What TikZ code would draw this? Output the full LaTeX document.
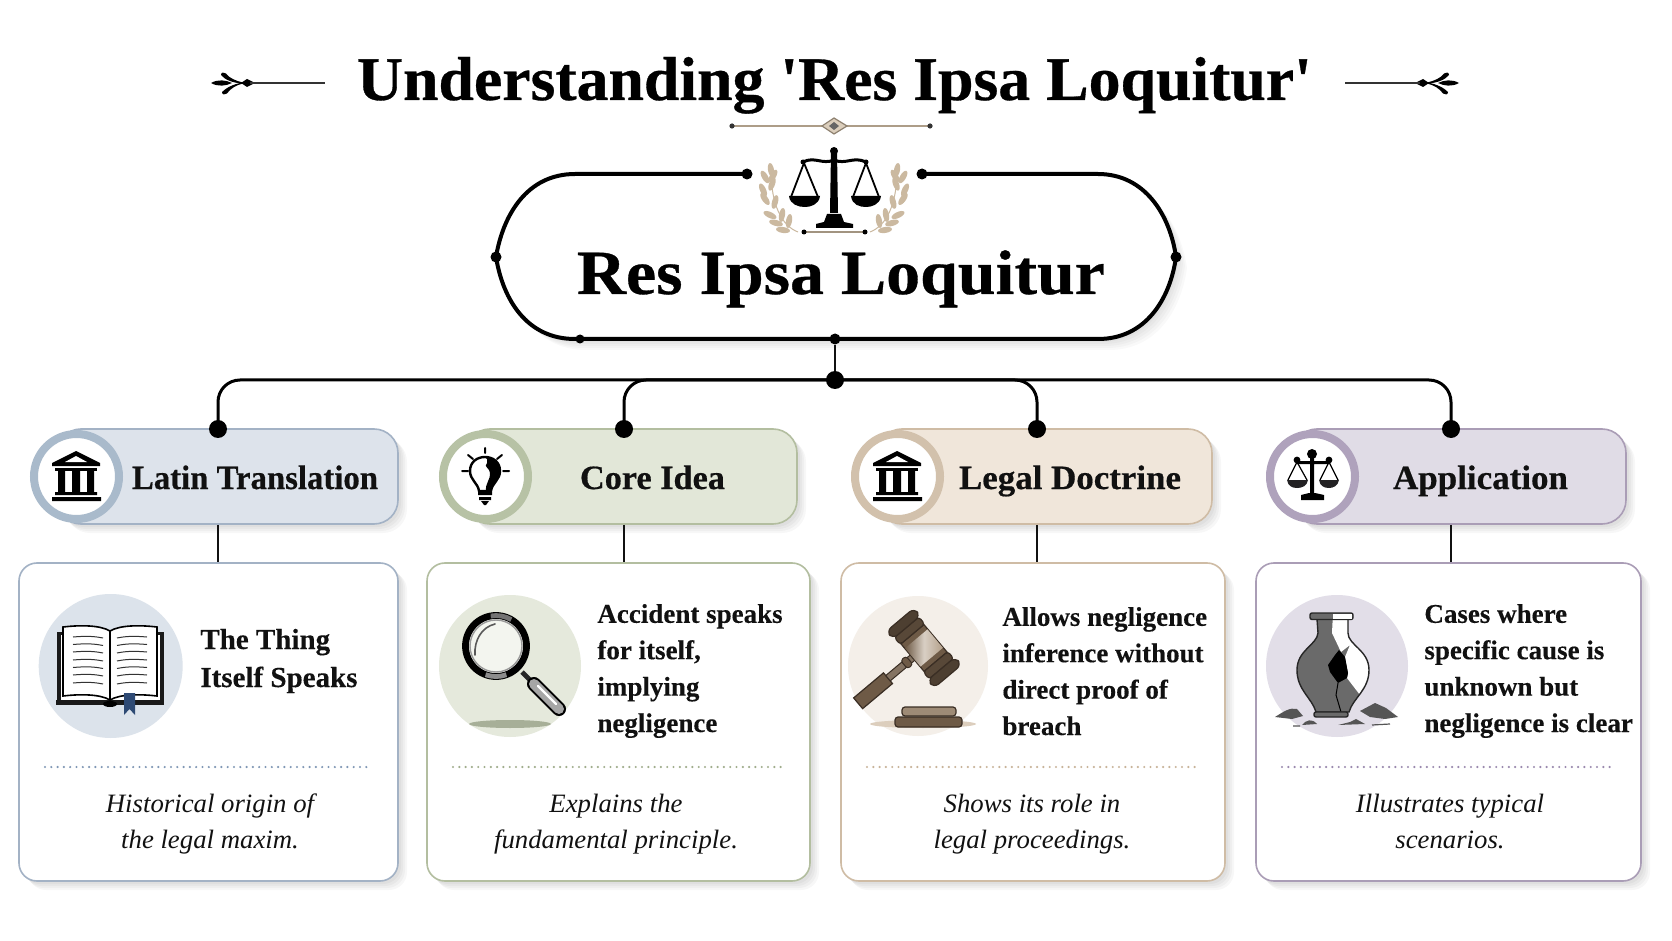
\documentclass[tikz,border=0pt]{standalone}
\usepackage{fontspec}
\usepackage{graphicx}
\setmainfont[BoldFeatures={FakeBold=0.5}]{Liberation Serif}
\newfontfamily\bodyfont[BoldFeatures={FakeBold=0.25}]{Liberation Serif}
\newfontfamily\notefont[FakeStretch=1.01]{Liberation Serif}
\usetikzlibrary{calc}
\definecolor{acol}{HTML}{DDE3EB}\definecolor{abor}{HTML}{A3B2C5}\definecolor{aring}{HTML}{A9BACB}\definecolor{aic}{HTML}{DCE3EB}\definecolor{adot}{HTML}{7F97B5}
\definecolor{bcol}{HTML}{E2E7D8}\definecolor{bbor}{HTML}{B3BEA0}\definecolor{bring}{HTML}{B7C2A5}\definecolor{bic}{HTML}{E5E9DC}\definecolor{bdot}{HTML}{A0AD8C}
\definecolor{ccol}{HTML}{F0E6DA}\definecolor{cbor}{HTML}{CFBCA5}\definecolor{cring}{HTML}{D2C1AC}\definecolor{cic}{HTML}{F4EFE9}\definecolor{cdot}{HTML}{C8B399}
\definecolor{dcol}{HTML}{E0DCE6}\definecolor{dbor}{HTML}{AA9DB6}\definecolor{dring}{HTML}{AFA2BC}\definecolor{dic}{HTML}{E2DEE8}\definecolor{ddot}{HTML}{9A89AE}
\definecolor{inkc}{HTML}{111111}\definecolor{leafc}{HTML}{CBB9A0}\definecolor{gavm}{HTML}{6E5A46}\definecolor{gavd}{HTML}{3A2E24}\definecolor{gavl}{HTML}{B3A08A}\definecolor{bmk}{HTML}{2E4A74}
\definecolor{vaseg}{HTML}{6A6A6A}\definecolor{shardc}{HTML}{555555}
\tikzset{
 x=0.5pt,y=-0.5pt,
 dotn/.style={circle,fill=black,inner sep=0pt,minimum size=#1},
 busline/.style={line width=1.5pt,black,rounded corners=11pt},
 stem/.style={line width=1pt,inkc},
 hdrbox/.style={draw=#1,line width=0.8pt,rounded corners=12pt,minimum height=47.5pt,inner sep=0pt},
 ringc/.style={circle,draw=#1,fill=white,line width=4pt,minimum size=42.5pt,inner sep=0pt},
 cardbox/.style={draw=#1,fill=white,line width=0.8pt,rounded corners=9pt,minimum height=159pt,inner sep=0pt},
 dotrule/.style={draw=#1,line width=1.2pt,line cap=round,dash pattern=on 0pt off 3.15pt},
 htext/.style={anchor=base,inner sep=0pt,font=\fontsize{17}{20}\selectfont\bfseries,text=inkc},
 btext/.style={anchor=base west,align=left,inner sep=0pt,font=\bodyfont\fontsize{13.5}{18.2}\selectfont\bfseries,text=inkc},
 itext/.style={anchor=base,align=center,inner sep=0pt,font=\notefont\fontsize{13.25}{18}\selectfont\itshape,text=inkc},
 ttext/.style={anchor=base,inner sep=0pt,font=\fontsize{31}{36}\selectfont\bfseries,text=black},
}
\newcommand{\softshadow}[5]{\foreach \s in {3,5,7,9}{\fill[black,opacity=.03,rounded corners=#5] ({#1+\s},{#2+\s}) rectangle ({#3+\s},{#4+\s});}}
\newcommand{\fitw}[2]{\resizebox{#1}{\height}{#2}}
\newcommand{\templeicon}[2]{\begin{scope}[shift={(#1,#2)}]
 \fill[black] (0,-26) -- (24,-14) -- (24,-11) -- (-24,-11) -- (-24,-14) -- cycle;
 \fill[white] (0,-21) -- (11,-15) -- (-11,-15) -- cycle;
 \fill[black] (-21,-9) rectangle (21,-6);
 \fill[black] (-18,-6) rectangle (-11,15) (-4,-6) rectangle (4,15) (11,-6) rectangle (18,15);
 \fill[black] (-21,15) rectangle (21,18) (-24,20) rectangle (25,24);
\end{scope}}
\newcommand{\leaf}[4]{\fill[leafc,shift={(#1,#2)},rotate=#3] (0,0) ellipse [x radius=#4,y radius=3];}
\newcommand{\flourish}{
 \fill[black] (211,83) .. controls (218,79) and (226,80) .. (232,83) .. controls (226,86) and (218,87) .. (211,83) -- cycle;
 \fill[black] (241,83) -- (247,79) -- (255,83) -- (247,87) -- cycle;
 \fill[black] (243,83.5) .. controls (233,83) and (225,80) .. (221,75) .. controls (221,72) and (224,72) .. (226,73.5) .. controls (229,78) and (236,81) .. (243,82.5) -- cycle;
 \fill[black] (243,82.5) .. controls (233,84) and (226,88) .. (222,92) .. controls (222,95) and (225,95) .. (227,93.5) .. controls (230,89) and (236,85) .. (243,83.5) -- cycle;
 \draw[black!80,line width=.7pt] (250,83) -- (325,83);
}
\newcommand{\pillshape}{(575,174) -- (1098,174) .. controls (1145,174) and (1170,215) .. (1176,257) .. controls (1170,300) and (1145,339) .. (1098,339) -- (575,339) .. controls (527,339) and (503,300) .. (496,257) .. controls (503,215) and (527,174) .. (575,174) -- cycle}
\begin{document}
\begin{tikzpicture}
\useasboundingbox (0,0) rectangle (1672,941);
\fill[white] (0,0) rectangle (1672,941);
% title
\node[ttext] (title) at (834.5,100) {\fitw{477.5pt}{Understanding \textquotesingle Res Ipsa Loquitur\textquotesingle}};
\flourish
\begin{scope}[shift={(1670,0)},xscale=-1]\flourish\end{scope}
\draw[line width=.7pt,color=leafc!85!black] (732,126) -- (930,126);
\fill[black!80] (732,126) circle (2.6) (930,126) circle (2.6);
\fill[leafc!70!white,draw=leafc!70!black,line width=.6pt] (822,126) -- (834,118) -- (847,126) -- (834,134) -- cycle;
\fill[black!60] (829,126) -- (834,122) -- (839,126) -- (834,130) -- cycle;
% pill
\foreach \s in {3,5,7,9,11}{\fill[black,opacity=.025,shift={(\s,\s)}] \pillshape;}
\fill[white] \pillshape;
\draw[line width=2pt,black] (747,174) -- (575,174) .. controls (527,174) and (503,215) .. (496,257) .. controls (503,300) and (527,339) .. (575,339) -- (1098,339) .. controls (1145,339) and (1170,300) .. (1176,257) .. controls (1170,215) and (1145,174) .. (1098,174) -- (922,174);
\node[dotn=5.5pt] (pt1) at (747,174) {};
\node[dotn=5.5pt] (pt2) at (922,174) {};
\node[dotn=5.5pt] (pl) at (496,257) {};
\node[dotn=5.5pt] (pr) at (1176,257) {};
\node[dotn=4.5pt] (pb1) at (580,339) {};
\node[dotn=5.5pt] (pb) at (835,339) {};
% laurels
\draw[leafc,line width=.5pt] (798,232) .. controls (782,226) and (771,205) .. (771,170);
\draw[leafc,line width=.5pt] (870,232) .. controls (886,226) and (897,205) .. (897,170);
\foreach \a/\b/\r in {771/170/100,765/177/120,773/176/60,763/190/115,772/184/70,765/199/125,775/202/75,770/215/155,782/215/80,776/223/165,789/221/80,783/230/172}{
 \leaf{\a}{\b}{\r}{7}
 \leaf{\the\numexpr1668-\a\relax}{\b}{-\r}{7}
}
% big scales
\fill[black] (834,151) circle (4);
\fill[black] (831,152) -- (837,152) -- (838,213) -- (830,213) -- cycle;
\fill[black] (827,214) -- (841,214) -- (844,222) -- (853,224) -- (853,228) -- (816,228) -- (816,224) -- (824,222) -- cycle;
\draw[black,line width=1.5pt,line cap=round] (803,162) .. controls (815,156) and (822,165) .. (834,160) .. controls (846,165) and (853,156) .. (866,162);
\fill[black] (803,162) circle (2.5) (866,162) circle (2.5);
\draw[black,line width=.9pt] (791,197) -- (804,163) -- (818,197) (853,197) -- (866,163) -- (879,197);
\fill[black] (789,196) -- (820,196) .. controls (819,205) and (810,207) .. (805,207) .. controls (799,207) and (790,205) .. (789,196) -- cycle;
\fill[black] (851,196) -- (881,196) .. controls (880,205) and (871,207) .. (866,207) .. controls (860,207) and (852,205) .. (851,196) -- cycle;
\draw[line width=.8pt,color=leafc!80!black] (804,232) -- (865,232);
\fill[black] (804,232) circle (2.5) (865,232) circle (2.5);
\node[ttext,font=\fontsize{31.5}{36}\selectfont\bfseries] (root) at (841,294) {\fitw{264pt}{Res Ipsa Loquitur}};
% shadows
\softshadow{57}{429}{398}{524}{12pt}
\softshadow{466}{429}{797}{524}{12pt}
\softshadow{878}{429}{1212}{524}{12pt}
\softshadow{1293}{429}{1626}{524}{12pt}
\softshadow{19}{563}{398}{881}{9pt}
\softshadow{427}{563}{810}{881}{9pt}
\softshadow{841}{563}{1225}{881}{9pt}
\softshadow{1256}{563}{1641}{881}{9pt}
% header boxes
\node[hdrbox=abor,fill=acol,minimum width=170.5pt] (h1) at (227.5,476.5) {};
\node[hdrbox=bbor,fill=bcol,minimum width=165.5pt] (h2) at (631.5,476.5) {};
\node[hdrbox=cbor,fill=ccol,minimum width=167pt] (h3) at (1045,476.5) {};
\node[hdrbox=dbor,fill=dcol,minimum width=166.5pt] (h4) at (1459.5,476.5) {};
\node[ringc=aring] (r1) at (76.5,476.5) {};
\node[ringc=bring] (r2) at (485.5,476.5) {};
\node[ringc=cring] (r3) at (897.5,476.5) {};
\node[ringc=dring] (r4) at (1312.5,476.5) {};
\node[htext] (t1) at (255,489) {\fitw{123pt}{Latin Translation}};
\node[htext] (t2) at (652.5,489) {\fitw{72.5pt}{Core Idea}};
\node[htext] (t3) at (1070,489) {\fitw{111pt}{Legal Doctrine}};
\node[htext] (t4) at (1480.5,489) {\fitw{87.5pt}{Application}};
% cards
\node[cardbox=abor,minimum width=189.5pt] (c1) at (208.5,722) {};
\node[cardbox=bbor,minimum width=191.5pt] (c2) at (618.5,722) {};
\node[cardbox=cbor,minimum width=192pt] (c3) at (1033,722) {};
\node[cardbox=dbor,minimum width=192.5pt] (c4) at (1448.5,722) {};
% connectors
\node[dotn=9pt] (hub) at (835,380) {};
\node[dotn=9pt] (d1) at (218,429) {};
\node[dotn=9pt] (d2) at (624,429) {};
\node[dotn=9pt] (d3) at (1037,429) {};
\node[dotn=9pt] (d4) at (1451,429) {};
\draw[stem] (pb) -- (hub);
\draw[busline] (d1.center) |- (hub.center);
\draw[busline] (d2.center) |- (hub.center);
\draw[busline] (d3.center) |- (hub.center);
\draw[busline] (d4.center) |- (hub.center);
\draw[stem] (d1 |- h1.south) -- (d1 |- c1.north);
\draw[stem] (d2 |- h2.south) -- (d2 |- c2.north);
\draw[stem] (d3 |- h3.south) -- (d3 |- c3.north);
\draw[stem] (d4 |- h4.south) -- (d4 |- c4.north);
% header icons
\templeicon{76}{477}
\templeicon{897}{477}
\begin{scope}[shift={(485,477)}]
 \draw[black,line width=1pt,line cap=round] (0,-29) -- (0,-24) (-23,-6) -- (-17,-6) (18,-6) -- (24,-6) (-17,-22) -- (-12,-18) (12,-18) -- (17,-22);
 \draw[black,line width=1.2pt,fill=white] (-6,14) .. controls (-7,6) and (-15,3) .. (-15,-6) .. controls (-15,-15) and (-8,-20) .. (0,-20) .. controls (8,-20) and (15,-15) .. (15,-6) .. controls (15,3) and (7,6) .. (6,14) -- cycle;
 \fill[black] (0,-20) .. controls (8,-20) and (15,-15) .. (15,-6) .. controls (15,3) and (7,6) .. (6,14) -- (1,14) .. controls (0,6) and (6,2) .. (5,-4) .. controls (5,-9) and (-2,-10) .. (2,-14) .. controls (3,-17) and (2,-19) .. (0,-20) -- cycle;
 \fill[black] (-7,15) rectangle (7,18) (-6,20) rectangle (6,23);
 \fill[black] (-4,24) -- (4,24) -- (1,28) -- (-1,28) -- cycle;
\end{scope}
\begin{scope}[shift={(1312,477)}]
 \fill[black] (0,-23) circle (5) (-15,-17) circle (3.4) (17,-17) circle (3.4);
 \fill[black] (-2,-22) rectangle (2,18) (-16,-16) rectangle (18,-13);
 \fill[black] (-11,18) -- (-3,16) -- (3,16) -- (12,18) -- (12,23) -- (-11,23) -- cycle;
 \draw[black,line width=.6pt] (-24,3) -- (-15,-15) -- (-5,3) (8,3) -- (17,-15) -- (26,3);
 \fill[black!85!dic] (-25,3) -- (-4,3) .. controls (-5,9) and (-10,11) .. (-15,11) .. controls (-20,11) and (-24,9) .. (-25,3) -- cycle;
 \fill[black!85!dic] (7,3) -- (27,3) .. controls (26,9) and (21,11) .. (17,11) .. controls (12,11) and (8,9) .. (7,3) -- cycle;
\end{scope}
% icon discs
\fill[aic] (110.7,666) circle (72);
\fill[bic] (510,666) circle (71);
\fill[cic] (918,666) circle (70);
\fill[dic] (1337,666) circle (71);
% book
\fill[black!90] (57,632) rectangle (164,705);
\fill[white] (61,635) rectangle (160,701);
\fill[black!90] (56,700) rectangle (164,705);
\draw[black,line width=.8pt,fill=white] (63,696) -- (63,627) .. controls (80,625) and (100,625) .. (110,631) .. controls (120,625) and (140,625) .. (157,627) -- (157,696) .. controls (140,694) and (120,694) .. (110,700) .. controls (100,694) and (80,694) .. (63,696) -- cycle;
\draw[black,line width=.8pt] (110,631) -- (110,700);
\foreach \yy in {637,644.5,652,660,667.5,675,683}{
 \draw[black!80,line width=.5pt] (73,\yy) .. controls (85,\yy-1) and (93,\yy-1) .. (103,\yy+1);
 \draw[black!80,line width=.5pt] (117,\yy+1) .. controls (127,\yy-1) and (135,\yy-1) .. (147,\yy);
}
\fill[black] (110,704) ellipse (7 and 3);
\fill[bmk] (124,693) -- (135,693) -- (135,715) -- (129.5,709) -- (124,715) -- cycle;
% magnifier
\fill[bic!60!black!30!bbor] (510,724) ellipse (41 and 4);
\draw[black!85,line width=2.4pt] (522,672) -- (532,682);
\draw[black,line width=7pt,line cap=round] (534,684) -- (559,709);
\draw[black!35,line width=5pt,line cap=round] (534,684) -- (559,709);
\draw[white,line width=1.2pt,line cap=round] (538,686) -- (556,704);
\fill[white,opacity=.55] (496,646) circle (31);
\draw[black,line width=3.4pt] (496,646) circle (30.5);
\draw[black!55,line width=2.4pt] (490.7,616) arc[start angle=-100,end angle=-60,radius=30.5];
\draw[black!45,line width=2.4pt] (506.4,674.7) arc[start angle=70,end angle=110,radius=30.5];
\draw[black!40,line width=.7pt] (496,646) circle (26);
\draw[black!65,line width=.8pt,line cap=round] (475,655) .. controls (474,640) and (482,627) .. (495,624);
% gavel
\fill[cdot!55!cic] (923,724) ellipse (53 and 4);
\begin{scope}[shift={(924,648)},rotate=-50]
 \fill[gavm,draw=gavd,line width=.6pt] (-7,47) rectangle (7,86);
 \fill[gavm!85!white,draw=gavd,line width=.5pt] (-3.5,14) rectangle (3.5,47);
 \fill[gavm,draw=gavd,line width=.5pt,rounded corners=1.5pt] (-5.5,19) rectangle (5.5,26);
 \fill[gavm,draw=gavd,line width=.6pt] (-18,-15) rectangle (18,15);
 \shade[left color=gavm,right color=gavl,middle color=gavl!50!white] (-12,-14.6) rectangle (12,14.6);
 \fill[gavm!80!black,draw=gavd,line width=.6pt,rounded corners=1.5pt] (-27,-16) rectangle (-18,16) (18,-16) rectangle (27,16);
 \fill[gavm!70!black,draw=gavd,line width=.6pt,rounded corners=3pt] (-37,-18) rectangle (-27,18) (27,-18) rectangle (37,18);
\end{scope}
\fill[gavm,draw=gavd,line width=.6pt,rounded corners=1.5pt] (895,717) rectangle (962,727);
\fill[gavl!70!gavm,draw=gavd,line width=.6pt,rounded corners=1.5pt] (902,707) rectangle (956,716);
% vase
\def\vasebody{(1317,619) -- (1318,633) .. controls (1317,645) and (1297,650) .. (1297,670) .. controls (1297,690) and (1312,698) .. (1316,712) -- (1349,712) .. controls (1353,698) and (1369,690) .. (1369,670) .. controls (1369,650) and (1348,645) .. (1348,633) -- (1348,619) -- cycle}
\fill[vaseg] \vasebody;
\begin{scope}\clip \vasebody;
 \fill[white] (1333,613) -- (1375,613) -- (1375,690) -- (1360,695) -- (1347,678) -- (1348,673) -- (1345,657) -- (1350,645) -- (1341,652) -- (1332,633) -- cycle;
 \fill[black] (1339,650) -- (1345,657) -- (1348,673) -- (1347,678) -- (1338,683) -- (1330,672) -- (1328,665) -- (1335,655) -- cycle;
 \draw[black,line width=.5pt] (1338,683) -- (1336,695) -- (1341,712);
\end{scope}
\draw[black!85,line width=.7pt] \vasebody;
\fill[vaseg,draw=black!85,line width=.7pt,rounded corners=1pt] (1310,613) rectangle (1353,619.5);
\fill[white] (1333,614) rectangle (1352.3,619);
\fill[vaseg,draw=black!85,line width=.7pt,rounded corners=1pt] (1314,712) rectangle (1348,717);
\fill[shardc] (1275,717) .. controls (1283,712) and (1290,707) .. (1297,709) -- (1303,716) -- (1292,719) -- cycle;
\fill[shardc] (1360,711) -- (1375,703) -- (1386,708) -- (1398,717) -- (1385,719) -- (1370,717) -- cycle;
\fill[shardc] (1302,725) .. controls (1306,720) and (1312,718) .. (1317,724) -- cycle;
\fill[shardc] (1338,725) -- (1350,722) -- (1356,719) -- (1365,724) -- cycle;
\draw[shardc,line width=.6pt] (1372,725) -- (1390,724) (1293,726) -- (1300,726);
% card text
\node[btext,font=\bodyfont\fontsize{14.5}{19}\selectfont\bfseries] (b1) at (200,687) {The Thing\\Itself Speaks};
\node[btext] (b2) at (597,732) {Accident speaks\\for itself,\\implying\\negligence};
\node[btext] (b3) at (1002,735) {Allows negligence\\inference without\\direct proof of\\breach};
\node[btext] (b4) at (1424,732) {Cases where\\specific cause is\\unknown but\\negligence is clear};
\draw[dotrule=adot] (45,767) -- (372,767);
\draw[dotrule=bdot] (453,767) -- (783,767);
\draw[dotrule=cdot] (867,767) -- (1198,767);
\draw[dotrule=ddot] (1282,767) -- (1614,767);
\node[itext] (n1) at (210,848) {Historical origin of\\the legal maxim.};
\node[itext] (n2) at (616,848) {Explains the\\fundamental principle.};
\node[itext] (n3) at (1032,848) {Shows its role in\\legal proceedings.};
\node[itext] (n4) at (1450,848) {Illustrates typical\\scenarios.};
\end{tikzpicture}
\end{document}
